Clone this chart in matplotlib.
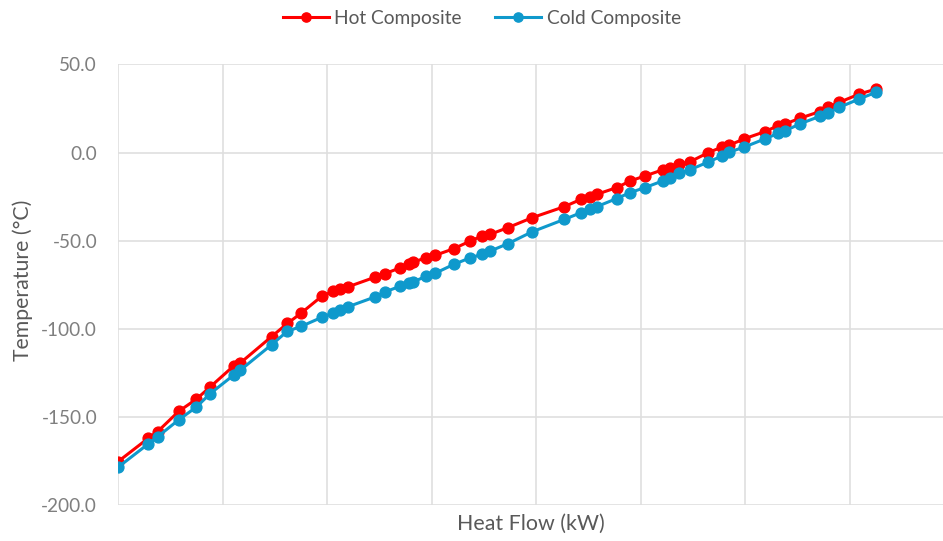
import numpy as np
import matplotlib
matplotlib.use('Agg')
import matplotlib.pyplot as plt

# heat flow (grid units) and temperatures
heat_flow = [0.00, 0.29, 0.38, 0.58, 0.75, 0.88, 1.11, 1.17, 1.47, 1.62,
             1.75, 1.95, 2.06, 2.12, 2.20, 2.46, 2.55, 2.70, 2.78, 2.82,
             2.95, 3.03, 3.21, 3.37, 3.48, 3.56, 3.73, 3.96, 4.27, 4.43,
             4.51, 4.58, 4.77, 4.90, 5.04, 5.21, 5.28, 5.37, 5.47, 5.64,
             5.78, 5.84, 5.99, 6.19, 6.31, 6.38, 6.52, 6.71, 6.79, 6.90,
             7.09, 7.25]
hot_temp = [-175.4, -162.1, -158.3, -146.9, -139.9, -133.1, -120.9, -119.4, -104.4, -97.0,
            -91.2, -81.5, -78.7, -77.3, -76.2, -70.7, -68.8, -65.4, -63.5, -62.2,
            -59.7, -58.4, -54.6, -50.2, -47.4, -46.4, -42.6, -37.0, -30.7, -26.5,
            -25.0, -23.7, -19.9, -16.1, -13.3, -9.8, -9.0, -6.6, -5.3, -0.2,
            3.2, 4.0, 7.8, 11.9, 15.2, 16.2, 19.4, 23.2, 25.7, 28.5,
            33.2, 36.0]
cold_temp = [-178.6, -165.3, -161.2, -151.7, -144.4, -136.9, -126.1, -123.5, -109.0, -101.4,
             -98.7, -93.5, -91.0, -89.5, -87.5, -81.9, -79.2, -75.8, -74.3, -73.5,
             -70.1, -68.6, -63.5, -59.7, -57.8, -55.9, -51.7, -45.0, -37.9, -34.1,
             -32.2, -30.7, -26.1, -22.7, -19.9, -16.1, -14.2, -11.7, -9.8, -5.5,
             -1.9, 0.1, 3.1, 7.8, 10.8, 12.3, 16.2, 20.5, 22.4, 25.7,
             30.4, 34.2]
y_ticks = [-200, -150, -100, -50, 0, 50]

plt.rcParams['font.family'] = ['Lato', 'DejaVu Sans']

fig = plt.figure(figsize=(9.43, 5.41), dpi=100)
ax = fig.add_axes([0.1251, 0.0665, 0.8749, 0.8145])

ax.plot(heat_flow, hot_temp, color='#ff0000', lw=2.2, marker='o', ms=7.8,
        label='Hot Composite', zorder=3)
ax.plot(heat_flow, cold_temp, color='#0f99cc', lw=2.2, marker='o', ms=7.8,
        label='Cold Composite', zorder=3)

ax.set_xlim(0, 7.89)
ax.set_ylim(-200, 50)
ax.set_xticks(np.arange(0, 8, 1))
ax.set_yticks(y_ticks)
ax.set_yticklabels(['%.1f' % v for v in y_ticks])
ax.tick_params(length=0, labelbottom=False, labelsize=13.7, colors='#7f7f7f', pad=15)
ax.grid(True, color='#dfdfdf', lw=1.2)
ax.set_axisbelow(True)
for s in ax.spines.values():
    s.set_visible(False)

ax.set_xlabel('Heat Flow (kW)', fontsize=15.4, color='#595959')
ax.xaxis.set_label_coords(0.5, -0.02)
ax.set_ylabel('Temperature (°C)', fontsize=15.3, color='#595959')
ax.yaxis.set_label_coords(-0.103, 0.51)

leg = fig.legend(loc='center', bbox_to_anchor=(0.511, 0.966), ncol=2, frameon=False,
                 fontsize=13.8, handlelength=2.4, columnspacing=1.75, handletextpad=0.3,
                 markerscale=0.85)
for t in leg.get_texts():
    t.set_color('#595959')

plt.savefig('out.png', dpi=100)
